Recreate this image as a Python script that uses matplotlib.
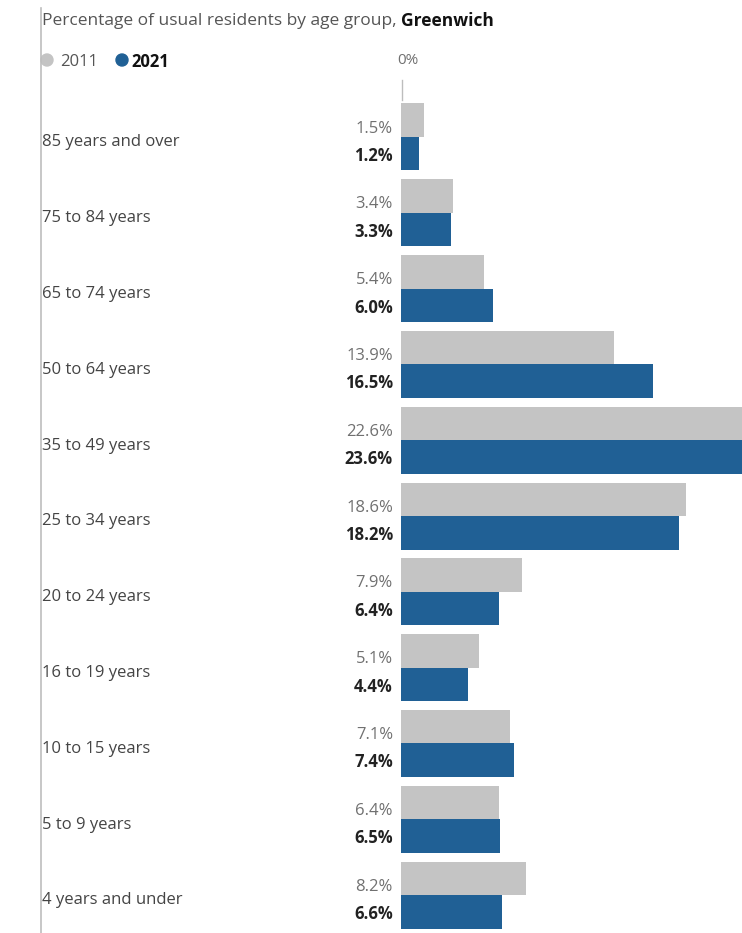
import matplotlib
matplotlib.use("Agg")
import matplotlib.pyplot as plt
from matplotlib.transforms import blended_transform_factory
from matplotlib.lines import Line2D
from matplotlib.patches import Ellipse

plt.rcParams['font.family'] = ['Open Sans', 'DejaVu Sans']

categories = ["4 years and under", "5 to 9 years", "10 to 15 years", "16 to 19 years",
              "20 to 24 years", "25 to 34 years", "35 to 49 years", "50 to 64 years",
              "65 to 74 years", "75 to 84 years", "85 years and over"]
values_2011 = [8.2, 6.4, 7.1, 5.1, 7.9, 18.6, 22.6, 13.9, 5.4, 3.4, 1.5]
values_2021 = [6.6, 6.5, 7.4, 4.4, 6.4, 18.2, 23.6, 16.5, 6.0, 3.3, 1.2]
series_labels = ["2011", "2021"]

GREY = "#c4c4c4"
BLUE = "#206095"

W, H = 742, 933
fig = plt.figure(figsize=(W / 100, H / 100), dpi=100)

ax_left = 401 / W
ax_top_px = 95
ax = fig.add_axes([ax_left, 0, 1 - ax_left, (H - ax_top_px) / H])
pitch = 75.8
ybot = (895 - H) / pitch
ytop = (895 - ax_top_px) / pitch
ax.set_ylim(ybot, ytop)
ax.set_xlim(0, 341 / 15.3)
ax.axis('off')

bh = 33.5 / pitch
idx = list(range(len(categories)))
ax.barh([i + bh / 2 for i in idx], values_2011, height=bh, color=GREY, align='center')
ax.barh([i - bh / 2 for i in idx], values_2021, height=bh, color=BLUE, align='center')

tr = blended_transform_factory(fig.transFigure, ax.transData)
for i, cat in enumerate(categories):
    ax.text(42 / W, i - 0.07, cat, transform=tr, ha='left', va='center',
            fontsize=12, color='#444444')
    ax.text(393 / W, i + 0.11, f"{values_2011[i]:.1f}%", transform=tr,
            ha='right', va='center', fontsize=12, color='#707070')
    ax.text(393 / W, i - 0.25, f"{values_2021[i]:.1f}%", transform=tr,
            ha='right', va='center', fontsize=12, color='#222222', fontweight='bold')

# left vertical rule
fig.add_artist(Line2D([40.5 / W, 40.5 / W], [0, 1 - 8 / H], color='#bdbdbd', lw=1.2))
# zero tick
fig.add_artist(Line2D([402 / W, 402 / W], [1 - 80 / H, 1 - 100 / H], color='#bdbdbd', lw=1))
fig.text(408 / W, 1 - 61 / H, "0%", ha='center', va='center', fontsize=11, color='#707070')

# title
title_a = "Percentage of usual residents by age group, "
ta = fig.text(42 / W, 1 - 21 / H, title_a, ha='left', va='center', fontsize=12.5, color='#555555')
fig.canvas.draw()
bb = ta.get_window_extent(renderer=fig.canvas.get_renderer())
fig.text(bb.x1 / W, 1 - 21 / H, "Greenwich", ha='left', va='center', fontsize=12.5,
         color='#111111', fontweight='bold')

# legend
fig.add_artist(Ellipse((47 / W, 1 - 60 / H), 12 / W, 12 / H, transform=fig.transFigure,
                       color=GREY))
fig.text(60 / W, 1 - 62 / H, series_labels[0], ha='left', va='center', fontsize=12, color='#555555')
fig.add_artist(Ellipse((122 / W, 1 - 60 / H), 12 / W, 12 / H, transform=fig.transFigure,
                       color=BLUE))
fig.text(131 / W, 1 - 62 / H, series_labels[1], ha='left', va='center', fontsize=12,
         color='#111111', fontweight='bold')

fig.savefig("out.png", dpi=100)
